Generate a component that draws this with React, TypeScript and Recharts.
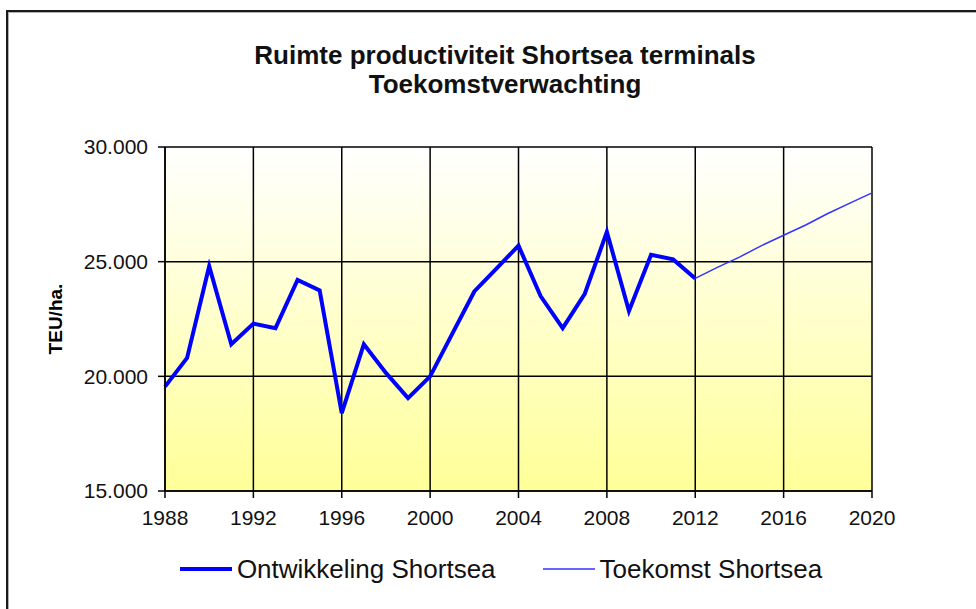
import { LineChart, Line, XAxis, YAxis, CartesianGrid, Legend } from 'recharts';

const years = [
    1988, 1989, 1990, 1991, 1992, 1993, 1994, 1995, 1996, 1997, 1998,
    1999, 2000, 2001, 2002, 2003, 2004, 2005, 2006, 2007, 2008, 2009,
    2010, 2011, 2012, 2013, 2014, 2015, 2016, 2017, 2018, 2019, 2020,
];

// gemeten 1988 - 2012
const ontwikkeling = [
    19550, 20800, 24800, 21400, 22300, 22100, 24200, 23750, 18400, 21400,
    20150, 19050, 20000, 21850, 23700, 24700, 25700, 23500, 22100, 23600,
    26300, 22850, 25300, 25100, 24270,
];

// verwachting 2012 - 2020
const toekomstStart = 2012;
const toekomst = [24270, 24750, 25200, 25700, 26150, 26600, 27100, 27550, 28000];

const xTicks = [1988, 1992, 1996, 2000, 2004, 2008, 2012, 2016, 2020];
const yTicks = [15000, 20000, 25000, 30000];

const data = years.map((year, i) => ({
    year,
    ontwikkeling: i < ontwikkeling.length ? ontwikkeling[i] : null,
    toekomst: year >= toekomstStart ? toekomst[year - toekomstStart] : null,
}));

const font = '"Liberation Sans", Arial, sans-serif';

const formatThousands = (v: number) => `${v / 1000}.000`;

function ChartLegend({ payload }: any) {
    return (
        <div style={{ display: 'flex', justifyContent: 'center', alignItems: 'center', paddingLeft: 26, fontFamily: font }}>
            {(payload || []).map((item: any, index: number) => (
                <div key={index} style={{ display: 'flex', alignItems: 'center', marginRight: index === 0 ? 47 : 0 }}>
                    <svg width={52} height={10}>
                        <line x1={0} y1={5} x2={52} y2={5} stroke={item.color} strokeWidth={item.payload?.strokeWidth ?? 2} />
                    </svg>
                    <span style={{ marginLeft: 5, fontSize: 26, color: '#111', lineHeight: '30px' }}>{item.value}</span>
                </div>
            ))}
        </div>
    );
}

function YLabel({ viewBox }: any) {
    const cy = viewBox ? viewBox.y + viewBox.height / 2 : 319;
    return (
        <text
            x={55}
            y={cy}
            transform={`rotate(-90 55 ${cy})`}
            textAnchor="middle"
            dominantBaseline="central"
            style={{ fontFamily: font, fontSize: 19, fontWeight: 'bold', fill: '#000' }}
        >
            TEU/ha.
        </text>
    );
}

export default function App() {
    return (
        <div style={{ position: 'absolute', left: 0, top: 0, width: 976, height: 609, overflow: 'hidden', background: '#fff' }}>
            <div
                style={{
                    position: 'absolute', left: 6, top: 10, width: 1000, height: 640,
                    borderLeft: '2px solid #1a1a1a', borderTop: '2px solid #1a1a1a',
                    boxShadow: 'inset 1px 1px 0 #b0b0b0',
                }}
            />
            <div
                style={{
                    position: 'absolute', left: 0, top: 41, width: 1010, textAlign: 'center',
                    fontFamily: font, fontWeight: 'bold', fontSize: 26, lineHeight: '29px', color: '#111',
                }}
            >
                Ruimte productiviteit Shortsea terminals
                <br />
                Toekomstverwachting
            </div>
            <div style={{ position: 'absolute', left: 0, top: 0 }}>
                <LineChart width={976} height={609} data={data} margin={{ top: 147, right: 104, bottom: 58, left: 85 }}>
                    <defs>
                        <linearGradient id="plotBg" x1="0" y1="0" x2="0" y2="1">
                            <stop offset="0%" stopColor="#FFFFFF" />
                            <stop offset="100%" stopColor="#FFFF99" />
                        </linearGradient>
                    </defs>
                    <CartesianGrid
                        stroke="#000"
                        strokeWidth={1.5}
                        fill="url(#plotBg)"
                        fillOpacity={1}
                        horizontalValues={yTicks}
                        verticalValues={xTicks}
                    />
                    <XAxis
                        dataKey="year"
                        type="number"
                        domain={[1988, 2020]}
                        ticks={xTicks}
                        height={30}
                        tickSize={7}
                        tickMargin={12}
                        axisLine={{ stroke: '#000', strokeWidth: 1.5 }}
                        tickLine={{ stroke: '#000', strokeWidth: 1.5 }}
                        tick={{ fill: '#111', fontSize: 21, fontFamily: font }}
                        interval={0}
                    />
                    <YAxis
                        type="number"
                        domain={[15000, 30000]}
                        ticks={yTicks}
                        width={80}
                        tickSize={7}
                        tickMargin={10}
                        tickFormatter={formatThousands}
                        axisLine={{ stroke: '#000', strokeWidth: 1.5 }}
                        tickLine={{ stroke: '#000', strokeWidth: 1.5 }}
                        tick={{ fill: '#111', fontSize: 21, fontFamily: font }}
                        interval={0}
                        label={<YLabel />}
                    />
                    <Line
                        type="linear"
                        dataKey="ontwikkeling"
                        name="Ontwikkeling Shortsea"
                        stroke="#0000FF"
                        strokeWidth={4}
                        dot={false}
                        activeDot={false}
                        isAnimationActive={false}
                    />
                    <Line
                        type="linear"
                        dataKey="toekomst"
                        name="Toekomst Shortsea"
                        stroke="#3333FF"
                        strokeWidth={1.5}
                        dot={false}
                        activeDot={false}
                        isAnimationActive={false}
                    />
                    <Legend
                        content={<ChartLegend />}
                        wrapperStyle={{ position: 'absolute', top: 554, left: 0, width: 976, bottom: 'auto' }}
                    />
                </LineChart>
            </div>
        </div>
    );
}
